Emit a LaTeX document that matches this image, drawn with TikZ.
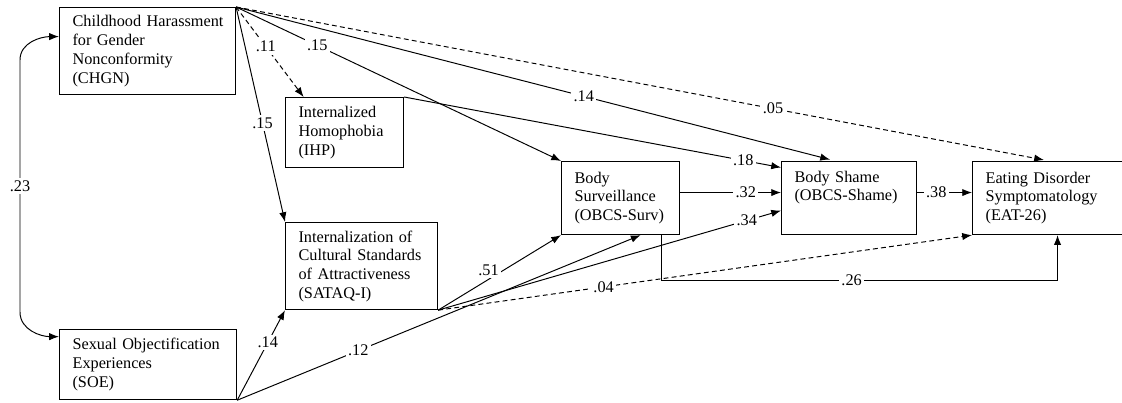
\documentclass[tikz,border=0pt]{standalone}
\usepackage{fontspec}
\setmainfont{Liberation Serif}
\usetikzlibrary{arrows.meta}

\begin{document}
\begin{tikzpicture}[x=0.615pt, y=-0.615pt,
    every node/.style={font=\fontsize{10}{11.5}\selectfont},
    var/.style={draw, line width=0.7pt, anchor=north west, align=left, inner xsep=8pt, inner ysep=2pt},
    eff/.style={line width=0.6pt, -{Latex[length=6pt,width=4.5pt]}},
    ns/.style={eff, dash pattern=on 3pt off 2pt},
    coef/.style={fill=white, inner sep=1.5pt}]
  \useasboundingbox (0,0) rectangle (1122,402);

  % variables
  \node[var, text width=92.2pt, minimum height=53.5pt] (CHGN) at (59,7) {\mbox{Childhood Harassment}\\for Gender\\Nonconformity\\(CHGN)};
  \node[var, text width=92.9pt, minimum height=43.1pt] (SOE) at (59,329) {\mbox{Sexual Objectification}\\Experiences\\(SOE)};
  \node[var, text width=56.6pt, minimum height=43.1pt] (IHP) at (285,97) {Internalized\\Homophobia\\(IHP)};
  \node[var, text width=77.5pt, minimum height=53.5pt] (SATAQ) at (285,222) {Internalization of\\\mbox{Cultural Standards}\\of Attractiveness\\(SATAQ-I)};
  \node[var, text width=56.6pt, minimum height=44.9pt] (Surv) at (561,161) {Body\\Surveillance\\\mbox{(OBCS-Surv)}};
  \node[var, text width=67pt, minimum height=44.9pt] (Shame) at (781,161) {Body Shame\\\mbox{(OBCS-Shame)}\\\strut};
  \node[var, text width=78.7pt, minimum height=44.9pt] (EAT) at (972,161) {Eating Disorder\\\mbox{Symptomatology}\\(EAT-26)};

  % correlation
  \draw[line width=0.6pt, {Latex[length=6pt,width=4.5pt]}-{Latex[length=6pt,width=4.5pt]}]
    ([yshift=8.9pt]CHGN.west) to[out=180, in=90] (20,60)
    -- node[coef] {.23} (20,312)
    to[out=-90, in=180] ([yshift=17.2pt]SOE.west);

  % paths from CHGN
  \draw[ns] (CHGN.north east) -- node[coef, pos=0.44] {.11} ([xshift=-25.2pt]IHP.north);
  \draw[eff] (CHGN.north east) -- node[coef, pos=0.25] {.15} (Surv.north west);
  \draw[eff, shorten >=3.5pt] (CHGN.north east) -- node[coef, pos=0.58] {.14} ([xshift=-8.3pt]Shame.north);
  \draw[ns, shorten >=3.5pt] (CHGN.north east) -- node[coef, pos=0.66] {.05} (EAT.north);
  \draw[eff] (CHGN.north east) -- node[coef, pos=0.54] {.15} (SATAQ.north west);

  % paths from SOE
  \draw[eff] (SOE.south east) -- node[coef, pos=0.64] {.14} (SATAQ.south west);
  \draw[eff] (SOE.south east) -- node[coef, pos=0.3] {.12} ([xshift=12.3pt]Surv.south);

  % paths from IHP and SATAQ
  \draw[eff] (IHP.north east) -- node[coef, pos=0.9] {.18} ([yshift=18.8pt]Shame.west);
  \draw[eff] (SATAQ.south east) -- node[coef, pos=0.45, xshift=-3pt, yshift=4pt] {.51} (Surv.south west);
  \draw[eff] (SATAQ.south east) -- node[coef, pos=0.9] {.34} ([yshift=-7.7pt]Shame.west);
  \draw[ns] (SATAQ.south east) -- node[coef, pos=0.31] {.04} (EAT.south west);

  % paths to outcome
  \draw[eff] ([yshift=3.4pt]Surv.east) -- node[coef, pos=0.65] {.32} ([yshift=3.4pt]Shame.west);
  \draw[eff] ([xshift=25.2pt]Surv.south) -- ++(0,45) -| node[coef, pos=0.24] {.26} ([xshift=4.9pt]EAT.south);
  \draw[eff] ([yshift=3.4pt]Shame.east) -- node[coef, pos=0.35] {.38} ([yshift=3.4pt]EAT.west);
\end{tikzpicture}
\end{document}
